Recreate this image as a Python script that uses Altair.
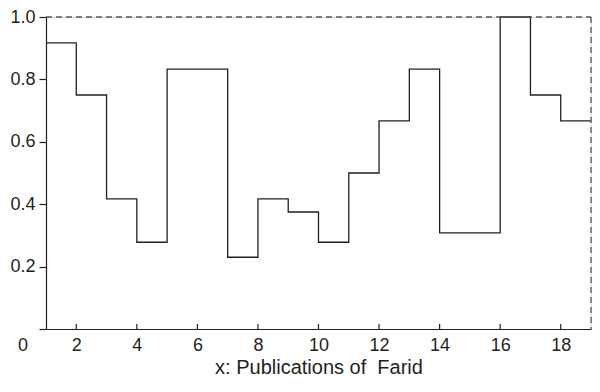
import altair as alt
import pandas as pd

x_vals = list(range(1, 20))
y_vals = [0.917, 0.75, 0.417, 0.278, 0.833, 0.833, 0.23, 0.417, 0.375, 0.278,
          0.5, 0.667, 0.833, 0.308, 0.308, 1.0, 0.75, 0.667, 0.667]
x_ticks = [2, 4, 6, 8, 10, 12, 14, 16, 18]
y_ticks = [0, 0.2, 0.4, 0.6, 0.8, 1.0]

FONT = "Liberation Sans"
INK = "#231f20"
W, H = 545, 312

df = pd.DataFrame({"x": x_vals, "y": y_vals})
xs = alt.Scale(domain=[1, 19], nice=False, zero=False)
ys = alt.Scale(domain=[0, 1], nice=False)

step = alt.Chart(df).mark_line(interpolate="step-after", color=INK, strokeWidth=1.3).encode(
    x=alt.X("x:Q", scale=xs, title="x: Publications of\u00a0 Farid",
            axis=alt.Axis(values=x_ticks, ticks=False, labelFontSize=18, labelFont=FONT,
                          labelColor=INK, labelPadding=7, domainColor=INK, domainWidth=1.2,
                          titleFont=FONT, titleFontSize=20, titleFontWeight="normal",
                          titleColor=INK, titlePadding=3, grid=False)),
    y=alt.Y("y:Q", scale=ys, title=None,
            axis=alt.Axis(values=y_ticks, labelExpr="datum.value == 0 ? '' : format(datum.value, '.1f')",
                          labelFontSize=18, labelFont=FONT, labelColor=INK, tickSize=7,
                          tickColor=INK, tickWidth=1.2, labelPadding=4, domainColor=INK,
                          domainWidth=1.2, grid=False)),
)

frame_top = alt.Chart(pd.DataFrame({"y": [1.0]})).mark_rule(
    color="#555555", strokeDash=[6, 4], strokeWidth=1.3).encode(
    y=alt.Y("y:Q", scale=ys), x=alt.value(0), x2=alt.value(W))

frame_right = alt.Chart(pd.DataFrame({"x": [19]})).mark_rule(
    color="#555555", strokeDash=[6, 4], strokeWidth=1.3).encode(
    x=alt.X("x:Q", scale=xs), y=alt.value(0), y2=alt.value(H))

ticks = alt.Chart(pd.DataFrame({"x": x_ticks})).mark_rule(color=INK, strokeWidth=1.2).encode(
    x=alt.X("x:Q", scale=xs), y=alt.value(H - 5), y2=alt.value(H))

zero = alt.Chart(pd.DataFrame({"t": ["0"]})).mark_text(
    font=FONT, fontSize=18, color=INK, baseline="middle", align="center").encode(
    text="t:N", x=alt.value(-23), y=alt.value(H + 17))

chart = alt.layer(step, frame_top, frame_right, ticks, zero).properties(
    width=W, height=H,
    autosize=alt.AutoSizeParams(type="none"),
    padding={"left": 38, "top": 9, "right": 1, "bottom": 47},
).configure_view(stroke=None).configure(background="white")

chart.save("out.html", embed_options={"renderer": "svg", "actions": False})
